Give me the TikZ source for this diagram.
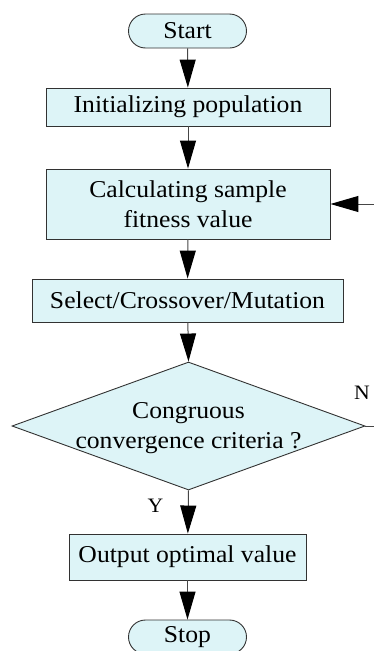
\documentclass[tikz,border=0pt]{standalone}
\usepackage{fontspec}
\setmainfont[FakeStretch=1.06]{Liberation Serif}
\usetikzlibrary{shapes.geometric,arrows.meta}
\definecolor{boxfill}{RGB}{221,244,247}
\definecolor{boxline}{RGB}{50,50,50}
\definecolor{conn}{RGB}{70,70,70}
\tikzset{
  x=1pt, y=-1pt,
  maintext/.style={font=\fontsize{24.2}{30.5}\selectfont},
  procbox/.style={draw=boxline, fill=boxfill, line width=0.9pt, inner sep=0pt, maintext, align=center},
  termbox/.style={procbox, rounded corners=17pt, minimum width=118pt, minimum height=34pt},
  decbox/.style={diamond, draw=boxline, fill=boxfill, line width=0.9pt, inner sep=0pt, minimum width=353pt, minimum height=128pt},
  arr/.style={draw=conn, line width=1pt, -{Triangle[width=16pt,length=28pt,fill=black,color=black]}},
  plainline/.style={draw=conn, line width=1pt},
  lbl/.style={font=\fontsize{20.5}{24}\selectfont, inner sep=0pt}
}
\begin{document}
\begin{tikzpicture}
\useasboundingbox (0,0) rectangle (374,651);
\node[termbox] (start) at (187.5,31) {Start};
\node[procbox, minimum width=284pt, minimum height=38pt] (init) at (188,107) {Initializing population};
\node[procbox, minimum width=284pt, minimum height=70pt] (calc) at (188,204) {Calculating sample\\fitness value};
\node[procbox, minimum width=311pt, minimum height=43pt] (sel) at (187.5,300.5) {Select/Crossover/Mutation};
\node[decbox] (dec) at (188.5,426) {};
\node[maintext, align=center, inner sep=0pt] (dectext) at (188.5,428) {Congruous\\convergence criteria ?};
\node[procbox, minimum width=237pt, minimum height=46pt] (out) at (187.5,557) {Output optimal value};
\node[termbox] (stop) at (187.5,637) {Stop};
\node[lbl] (nlbl) at (362,393) {N};
\node[lbl] (ylbl) at (155.5,506) {Y};
\coordinate (fbin) at (374,204);
\coordinate (nout) at (374,426);
\draw[arr] (start) -- (init);
\draw[arr] (init) -- (calc);
\draw[arr] (calc) -- (sel);
\draw[arr] (sel) -- (dec.north);
\draw[arr] (dec.south) -- (out);
\draw[arr] (out) -- (stop);
\draw[arr] (fbin) -- (calc.east);
\draw[plainline] (dec.east) -- (nout);
\end{tikzpicture}
\end{document}
